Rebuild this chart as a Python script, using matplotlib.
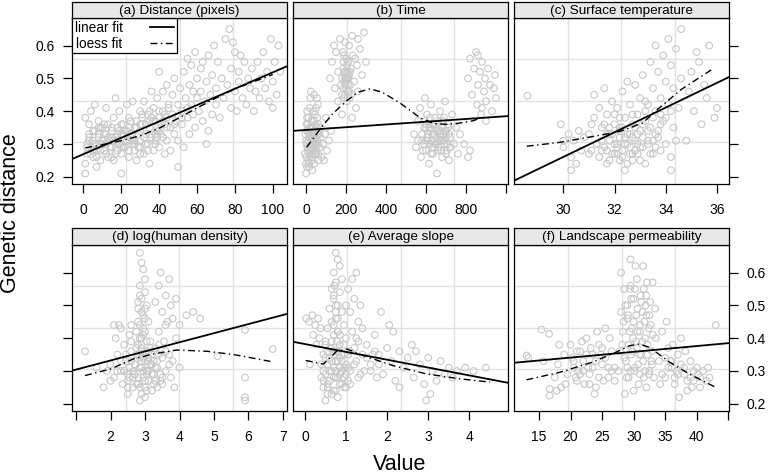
import matplotlib
matplotlib.use("Agg")
import matplotlib.pyplot as plt
from matplotlib.lines import Line2D

plt.rcParams['font.family'] = ['Liberation Sans', 'DejaVu Sans']

# ---- data ----
titles = ['(a) Distance (pixels)', '(b) Time', '(c) Surface temperature',
          '(d) log(human density)', '(e) Average slope', '(f) Landscape permeability']

# (a) distance
dist_x = [1, 1, 2, 2, 3, 3, 1, 4, 5, 5, 6, 6, 7, 8, 8, 9, 9, 10, 4, 7,
          11, 11, 12, 12, 13, 13, 14, 15, 15, 16, 16, 17, 17, 18, 18, 19, 19, 20, 20, 20,
          21, 22, 22, 23, 23, 24, 24, 25, 26, 26, 27, 27, 28, 28, 29, 30, 30, 30,
          31, 32, 32, 33, 34, 34, 35, 35, 36, 36, 37, 37, 38, 38, 39, 39, 40, 40, 40,
          41, 42, 42, 43, 43, 44, 44, 45, 46, 46, 47, 47, 48, 48, 49, 50, 50, 50,
          51, 52, 52, 53, 53, 54, 55, 55, 56, 56, 57, 57, 58, 58, 59, 59, 60, 60,
          61, 62, 62, 63, 63, 64, 65, 65, 66, 66, 67, 68, 68, 69, 70, 70,
          71, 72, 73, 74, 75, 76, 77, 78, 78, 79, 80, 80, 81, 82, 82, 83, 84, 85,
          86, 87, 88, 89, 90, 91, 92, 93, 94, 95, 96, 97, 98, 99, 100, 101, 102, 103, 104, 100]
dist_y = [0.21, 0.24, 0.27, 0.30, 0.33, 0.36, 0.38, 0.29, 0.26, 0.31, 0.34, 0.42, 0.28, 0.32, 0.37, 0.30, 0.25, 0.35, 0.40, 0.23,
          0.28, 0.33, 0.41, 0.30, 0.26, 0.36, 0.31, 0.29, 0.34, 0.38, 0.25, 0.32, 0.44, 0.28, 0.35, 0.30, 0.40, 0.27, 0.33, 0.21,
          0.36, 0.31, 0.29, 0.42, 0.34, 0.26, 0.38, 0.32, 0.30, 0.43, 0.35, 0.28, 0.37, 0.25, 0.33, 0.31, 0.40, 0.29,
          0.36, 0.27, 0.43, 0.33, 0.30, 0.39, 0.35, 0.24, 0.46, 0.32, 0.28, 0.41, 0.37, 0.30, 0.44, 0.34, 0.29, 0.52, 0.38,
          0.33, 0.46, 0.40, 0.27, 0.36, 0.48, 0.31, 0.42, 0.35, 0.28, 0.45, 0.39, 0.50, 0.33, 0.37, 0.42, 0.23, 0.31,
          0.47, 0.36, 0.40, 0.52, 0.29, 0.44, 0.38, 0.56, 0.33, 0.48, 0.42, 0.54, 0.39, 0.46, 0.58, 0.35, 0.44, 0.50,
          0.40, 0.53, 0.46, 0.37, 0.55, 0.43, 0.30, 0.49, 0.34, 0.57, 0.45, 0.51, 0.39, 0.60, 0.42, 0.47,
          0.55, 0.38, 0.50, 0.44, 0.62, 0.48, 0.65, 0.41, 0.53, 0.61, 0.46, 0.58, 0.40, 0.52, 0.49, 0.57, 0.44, 0.55,
          0.42, 0.50, 0.47, 0.53, 0.40, 0.46, 0.55, 0.44, 0.50, 0.58, 0.47, 0.52, 0.43, 0.62, 0.49, 0.55, 0.45, 0.60, 0.52, 0.41]
dist_core_x = [2, 3, 4, 5, 6, 7, 8, 9, 10, 11, 12, 13, 14, 15, 16, 17, 18, 19, 20, 21, 22, 23,
               24, 25, 26, 27, 28, 29, 30, 31, 32, 33, 34, 35, 36, 37, 38, 39, 40, 41, 42, 43, 44, 45,
               3, 6, 9, 12, 15, 18, 21, 24, 27, 30, 33, 36, 39, 42,
               5, 10, 15, 20, 25, 30, 35, 40, 8, 14, 19, 26, 31, 38, 44, 48, 52, 55]
dist_core_y = [0.29, 0.32, 0.27, 0.34, 0.30, 0.26, 0.33, 0.28, 0.31, 0.36, 0.27, 0.32, 0.29, 0.35, 0.31, 0.27,
               0.33, 0.30, 0.36, 0.29, 0.34, 0.31, 0.28, 0.37, 0.33, 0.30, 0.35, 0.29, 0.34, 0.38, 0.32, 0.36,
               0.28, 0.40, 0.33, 0.37, 0.31, 0.35, 0.40, 0.36, 0.32, 0.39, 0.35, 0.41,
               0.31, 0.28, 0.35, 0.33, 0.26, 0.31, 0.33, 0.35, 0.31, 0.36, 0.30, 0.38, 0.32, 0.37,
               0.28, 0.30, 0.32, 0.29, 0.33, 0.27, 0.37, 0.34, 0.35, 0.29, 0.34, 0.31, 0.39, 0.33, 0.38, 0.36, 0.38, 0.41]
dist_lin_x = [-6, 107.5]
dist_lin_y = [0.254, 0.537]
dist_lo_x = [1, 10, 20, 30, 40, 50, 60, 70, 80, 90, 100]
dist_lo_y = [0.288, 0.298, 0.31, 0.325, 0.348, 0.378, 0.41, 0.44, 0.468, 0.49, 0.512]

# (b) time
time_x = [0, 5, 10, 15, 20, 25, 30, 35, 40, 45, 50, 55,
          3, 8, 12, 18, 22, 28, 33, 38, 42, 48, 52, 58, 62, 68, 72, 78, 2, 6, 14, 26, 36, 46, 56, 64, 74,
          85, 95, 105, 115, 125, 100, 90, 9, 31, 17, 60, 40, 24,
          120, 130, 140, 150, 160, 170, 175, 180, 185, 190, 195, 200, 205, 210, 215, 220, 225, 230, 235, 240,
          250, 255, 260, 270, 280, 290, 300, 190, 200, 210, 195, 180, 230, 160, 145, 260, 205, 215, 245, 185,
          540, 550, 560, 570, 575, 580, 590, 595, 600, 605, 610, 615, 620, 625, 630, 635, 640, 645, 650, 655,
          660, 665, 670, 675, 680, 685, 690, 695, 700, 705, 710, 715, 720, 730, 740, 750, 760, 770, 790, 810,
          820, 600, 650, 690, 630, 670, 560, 720,
          810, 820, 830, 840, 850, 855, 860, 870, 875, 880, 890, 895, 900, 910, 920, 930, 940, 945, 950, 900, 860, 880]
time_y = [0.21, 0.23, 0.25, 0.27, 0.29, 0.31, 0.33, 0.35, 0.37, 0.39, 0.41, 0.44,
          0.30, 0.34, 0.38, 0.41, 0.44, 0.25, 0.28, 0.31, 0.24, 0.27, 0.30, 0.33, 0.36, 0.29, 0.32, 0.26, 0.36, 0.40, 0.33, 0.37, 0.40, 0.34, 0.38, 0.25, 0.35,
          0.30, 0.33, 0.28, 0.31, 0.34, 0.38, 0.25, 0.28, 0.22, 0.23, 0.42, 0.45, 0.46,
          0.50, 0.55, 0.60, 0.58, 0.52, 0.62, 0.48, 0.45, 0.53, 0.57, 0.50, 0.47, 0.43, 0.55, 0.60, 0.52, 0.45, 0.63, 0.57, 0.49,
          0.41, 0.54, 0.46, 0.59, 0.51, 0.64, 0.55, 0.44, 0.52, 0.48, 0.61, 0.39, 0.38, 0.43, 0.47, 0.62, 0.50, 0.46, 0.56, 0.58,
          0.33, 0.29, 0.37, 0.41, 0.26, 0.31, 0.35, 0.44, 0.28, 0.39, 0.33, 0.24, 0.30, 0.42, 0.36, 0.27, 0.33, 0.38, 0.30, 0.21,
          0.35, 0.29, 0.40, 0.32, 0.26, 0.37, 0.31, 0.43, 0.34, 0.28, 0.36, 0.25, 0.32, 0.39, 0.30, 0.35, 0.27, 0.33, 0.30, 0.26,
          0.28, 0.35, 0.36, 0.38, 0.31, 0.34, 0.31, 0.29,
          0.50, 0.56, 0.45, 0.53, 0.58, 0.42, 0.48, 0.52, 0.39, 0.55, 0.46, 0.50, 0.43, 0.53, 0.48, 0.40, 0.47, 0.51, 0.44, 0.37, 0.57, 0.41]
time_core_x = [-5, 0, 5, 10, 15, 20, 25, 30, 35, 40, 45, 50, 55, 60, 65,
               -3, 2, 7, 12, 17, 22, 27, 32, 37, 42, 47, 52, 57, 62,
               0, 10, 20, 30, 40, 50, 60, 5, 15, 25, 35, 45,
               180, 185, 190, 195, 200, 205, 210, 215, 220, 225, 188, 198, 208, 218, 192, 202, 212,
               580, 590, 600, 610, 620, 630, 640, 650, 660, 670, 680, 690, 700, 710, 720,
               585, 595, 605, 615, 625, 635, 645, 655, 665, 675, 685, 695, 705, 715,
               600, 620, 640, 660, 680, 700]
time_core_y = [0.27, 0.31, 0.34, 0.29, 0.32, 0.26, 0.30, 0.35, 0.28, 0.33, 0.31, 0.27, 0.35, 0.30, 0.33,
               0.33, 0.26, 0.29, 0.31, 0.35, 0.28, 0.32, 0.26, 0.30, 0.34, 0.36, 0.28, 0.31, 0.27,
               0.24, 0.36, 0.33, 0.29, 0.27, 0.32, 0.34, 0.38, 0.24, 0.35, 0.32, 0.29,
               0.50, 0.47, 0.52, 0.45, 0.50, 0.54, 0.46, 0.51, 0.48, 0.53, 0.55, 0.48, 0.52, 0.44, 0.49, 0.56, 0.50,
               0.33, 0.30, 0.36, 0.31, 0.34, 0.29, 0.36, 0.32, 0.28, 0.33, 0.35, 0.30, 0.32, 0.35, 0.29,
               0.28, 0.37, 0.32, 0.35, 0.27, 0.33, 0.30, 0.34, 0.31, 0.28, 0.33, 0.34, 0.30, 0.33,
               0.31, 0.38, 0.29, 0.37, 0.31, 0.27]
time_lin_x = [-65, 1010]
time_lin_y = [0.340, 0.385]
time_lo_x = [3, 40, 70, 130, 200, 260, 320, 380, 470, 570, 640, 700, 760, 830, 870]
time_lo_y = [0.29, 0.32, 0.345, 0.39, 0.43, 0.458, 0.468, 0.458, 0.425, 0.38, 0.362, 0.36, 0.363, 0.37, 0.378]

# (c) surface temperature
temp_x = [28.6, 29.9, 30.0, 30.2, 30.3, 30.4, 30.5, 30.6, 30.7, 30.3, 30.0,
          31.0, 31.1, 31.2, 31.3, 31.4, 31.5, 31.2, 31.4, 31.1,
          31.6, 31.7, 31.7, 31.8, 31.9, 31.9, 32.0, 31.6, 31.8,
          32.1, 32.1, 32.2, 32.2, 32.3, 32.3, 32.4, 32.4, 32.5, 32.5, 32.2, 32.0,
          32.6, 32.6, 32.7, 32.7, 32.8, 32.8, 32.9, 32.9, 33.0, 33.0, 32.7,
          33.1, 33.1, 33.2, 33.2, 33.3, 33.3, 33.4, 33.4, 33.5, 33.5,
          33.6, 33.6, 33.7, 33.7, 33.8, 33.8, 33.9, 33.9, 34.0, 34.0,
          34.1, 34.1, 34.2, 34.2, 34.3, 34.3, 34.4, 34.5, 34.6, 34.6, 34.2, 34.4,
          34.9, 35.0, 35.1, 35.3, 35.4, 35.5, 35.7, 35.2, 35.9, 36.0, 35.6, 34.8]
temp_y = [0.447, 0.36, 0.31, 0.33, 0.26, 0.31, 0.24, 0.34, 0.28, 0.22, 0.29,
          0.33, 0.28, 0.38, 0.30, 0.26, 0.35, 0.45, 0.41, 0.36,
          0.29, 0.39, 0.24, 0.33, 0.43, 0.27, 0.36, 0.47, 0.31,
          0.30, 0.41, 0.25, 0.35, 0.46, 0.28, 0.38, 0.22, 0.33, 0.49, 0.32, 0.27,
          0.29, 0.42, 0.36, 0.25, 0.31, 0.48, 0.39, 0.27, 0.34, 0.44, 0.32,
          0.29, 0.51, 0.37, 0.24, 0.42, 0.31, 0.55, 0.35, 0.27, 0.47,
          0.40, 0.60, 0.32, 0.52, 0.44, 0.28, 0.57, 0.37, 0.49, 0.30,
          0.42, 0.62, 0.54, 0.26, 0.47, 0.35, 0.59, 0.41, 0.65, 0.50, 0.22, 0.31,
          0.46, 0.52, 0.40, 0.55, 0.36, 0.48, 0.60, 0.58, 0.38, 0.41, 0.44, 0.31]
temp_core_x = [31.5, 31.7, 31.9, 32.1, 32.3, 32.5, 32.7, 32.9, 33.1, 33.3, 33.5, 33.7,
               31.6, 31.8, 32.0, 32.2, 32.4, 32.6, 32.8, 33.0, 33.2, 33.4, 33.6, 33.8,
               31.5, 31.8, 32.1, 32.4, 32.7, 33.0, 33.3, 33.6,
               31.7, 32.0, 32.3, 32.6, 32.9, 33.2, 33.5, 33.8,
               32.2, 32.5, 32.8, 33.1, 31.3, 31.0, 30.8, 34.0, 34.2]
temp_core_y = [0.31, 0.28, 0.33, 0.29, 0.35, 0.30, 0.27, 0.33, 0.36, 0.30, 0.38, 0.34,
               0.36, 0.25, 0.30, 0.38, 0.32, 0.27, 0.35, 0.29, 0.40, 0.27, 0.33, 0.39,
               0.28, 0.35, 0.27, 0.30, 0.39, 0.25, 0.34, 0.29,
               0.33, 0.39, 0.26, 0.33, 0.30, 0.43, 0.31, 0.36,
               0.34, 0.24, 0.28, 0.32, 0.30, 0.27, 0.32, 0.38, 0.40]
temp_lin_x = [28.07, 36.47]
temp_lin_y = [0.188, 0.504]
temp_lo_x = [28.57, 29.87, 31.17, 32.2, 33.1, 33.6, 34.6, 35.8]
temp_lo_y = [0.293, 0.305, 0.323, 0.338, 0.364, 0.40, 0.466, 0.527]

# (d) log(human density)
hum_x = [2.85, 2.9, 2.95, 3.0, 2.85, 3.0, 2.9, 3.05, 2.8, 2.95, 3.1, 2.85, 3.0, 2.9, 3.15, 2.8, 3.0,
         2.75, 3.1, 2.9, 3.2, 2.85, 3.05, 2.7, 3.25, 2.95, 3.1, 2.8, 3.0, 3.2, 2.9, 3.0, 2.85,
         2.0, 2.1, 2.2, 2.3, 2.35, 2.4, 2.45, 2.5, 2.55, 2.6, 2.65, 2.7, 2.6, 3.3, 3.35, 3.4, 3.45,
         3.5, 3.55, 3.6, 3.65, 3.7, 3.75, 3.8, 3.9, 4.0, 3.85, 2.15, 2.25, 2.0, 1.9, 1.8, 2.5,
         3.3, 3.4, 3.5, 3.6, 3.7, 3.75, 3.8, 3.9, 4.0, 4.2, 4.4, 4.6, 3.6, 3.45,
         1.26, 2.1, 2.3, 1.6, 5.9, 5.9, 5.9, 5.9, 5.1, 6.7]
hum_y = [0.66, 0.63, 0.61, 0.58, 0.56, 0.54, 0.52, 0.50, 0.49, 0.47, 0.45, 0.44, 0.42, 0.40, 0.39, 0.38, 0.36,
         0.35, 0.34, 0.33, 0.32, 0.31, 0.30, 0.29, 0.29, 0.28, 0.27, 0.26, 0.25, 0.24, 0.23, 0.22, 0.21,
         0.32, 0.28, 0.35, 0.30, 0.26, 0.38, 0.33, 0.29, 0.41, 0.36, 0.25, 0.32, 0.44, 0.37, 0.31, 0.42, 0.27,
         0.34, 0.39, 0.30, 0.45, 0.35, 0.28, 0.33, 0.40, 0.31, 0.25, 0.40, 0.44, 0.27, 0.30, 0.25, 0.23,
         0.51, 0.56, 0.48, 0.53, 0.58, 0.50, 0.46, 0.52, 0.44, 0.47, 0.48, 0.46, 0.44, 0.60,
         0.36, 0.44, 0.43, 0.31, 0.425, 0.28, 0.22, 0.21, 0.345, 0.367]
hum_core_x = [2.4, 2.5, 2.6, 2.7, 2.8, 2.9, 3.0, 3.1, 3.2, 3.3, 3.4, 3.5,
              2.45, 2.55, 2.65, 2.75, 2.85, 2.95, 3.05, 3.15, 3.25, 3.35, 3.45,
              2.5, 2.6, 2.7, 2.8, 2.9, 3.0, 3.1, 3.2, 3.3, 3.4,
              2.55, 2.65, 2.75, 2.85, 2.95, 3.05, 3.15, 3.25, 3.35,
              2.75, 2.8, 2.85, 2.9, 2.95, 3.0, 3.05, 2.8, 2.9, 3.0, 2.85, 2.95, 3.1,
              2.3, 2.2, 3.6, 3.7, 3.5]
hum_core_y = [0.30, 0.27, 0.33, 0.29, 0.35, 0.31, 0.27, 0.33, 0.29, 0.31, 0.35, 0.28,
              0.35, 0.31, 0.28, 0.37, 0.25, 0.34, 0.29, 0.37, 0.26, 0.33, 0.29,
              0.25, 0.39, 0.32, 0.28, 0.38, 0.33, 0.30, 0.35, 0.27, 0.38,
              0.28, 0.30, 0.26, 0.34, 0.30, 0.24, 0.32, 0.33, 0.25,
              0.42, 0.45, 0.40, 0.48, 0.43, 0.46, 0.39, 0.51, 0.37, 0.49, 0.53, 0.41, 0.36,
              0.33, 0.30, 0.36, 0.32, 0.26]
hum_lin_x = [0.884, 7.116]
hum_lin_y = [0.301, 0.474]
hum_lo_x = [1.26, 2.0, 2.67, 3.25, 3.93, 4.8, 5.57, 6.24, 6.64]
hum_lo_y = [0.286, 0.306, 0.337, 0.352, 0.364, 0.36, 0.35, 0.337, 0.329]

# (e) average slope
slope_x = [0.75, 0.8, 0.85, 0.7, 0.9, 0.75, 0.65, 0.85, 0.7, 0.8, 0.6, 0.9, 0.75, 0.65, 0.95, 0.55,
           0.8, 0.7, 1.0, 0.5, 0.85, 0.65, 0.75, 0.45, 0.95, 0.6, 0.8, 0.4, 0.7, 0.9, 0.5, 0.75,
           0.6, 0.85, 0.45, 0.7, 0.55, 0.8, 0.5, 0.65, 0.55, 0.9, 1.0, 0.4, 0.95,
           0.03, 0.1, 0.18, 0.25, 0.32, 0.12, 0.2, 0.35, 0.28, 0.38,
           1.05, 1.1, 1.15, 1.2, 1.25, 1.3, 1.35, 1.05, 1.1, 1.2, 1.3, 1.4, 1.15, 1.25, 1.35, 1.0, 1.4, 1.1,
           1.5, 1.6, 1.7, 1.8, 1.85, 1.9, 2.0, 2.1, 2.15, 2.2, 2.3, 2.4, 2.5, 2.6, 2.65, 2.7, 2.8,
           2.9, 3.0, 3.1, 3.2, 3.3, 3.4, 3.5, 3.6, 3.7, 3.9, 4.1, 4.4, 3.05, 2.95, 2.3, 1.75, 2.05]
slope_y = [0.66, 0.64, 0.62, 0.60, 0.58, 0.57, 0.55, 0.54, 0.52, 0.50, 0.49, 0.48, 0.46, 0.45, 0.44, 0.43,
           0.42, 0.41, 0.40, 0.39, 0.38, 0.37, 0.36, 0.35, 0.35, 0.34, 0.33, 0.32, 0.31, 0.30, 0.29, 0.28,
           0.27, 0.26, 0.25, 0.24, 0.23, 0.22, 0.21, 0.30, 0.36, 0.33, 0.29, 0.28, 0.25,
           0.46, 0.45, 0.47, 0.44, 0.46, 0.32, 0.41, 0.40, 0.38, 0.43,
           0.55, 0.48, 0.42, 0.37, 0.33, 0.45, 0.29, 0.31, 0.26, 0.52, 0.39, 0.35, 0.58, 0.60, 0.50, 0.50, 0.43, 0.36,
           0.38, 0.32, 0.41, 0.35, 0.48, 0.29, 0.37, 0.33, 0.42, 0.27, 0.36, 0.31, 0.34, 0.38, 0.28, 0.36, 0.32,
           0.26, 0.34, 0.30, 0.27, 0.33, 0.29, 0.31, 0.28, 0.30, 0.31, 0.30, 0.31, 0.23, 0.21, 0.25, 0.28, 0.44]
slope_core_x = [0.45, 0.55, 0.65, 0.75, 0.85, 0.95, 1.05,
                0.5, 0.6, 0.7, 0.8, 0.9, 1.0, 1.1,
                0.45, 0.55, 0.65, 0.75, 0.85, 0.95, 1.05,
                0.5, 0.6, 0.7, 0.8, 0.9, 1.0,
                0.55, 0.65, 0.75, 0.85, 0.95,
                0.7, 0.75, 0.8, 0.7, 0.75, 0.8, 0.85, 0.72, 0.78,
                1.2, 1.3, 1.5, 1.6, 1.7, 1.8, 1.25, 1.45, 1.65]
slope_core_y = [0.30, 0.26, 0.33, 0.24, 0.31, 0.28, 0.35,
                0.34, 0.37, 0.28, 0.36, 0.26, 0.32, 0.30,
                0.27, 0.32, 0.23, 0.30, 0.34, 0.38, 0.27,
                0.38, 0.30, 0.35, 0.28, 0.35, 0.25,
                0.25, 0.39, 0.33, 0.29, 0.31,
                0.44, 0.48, 0.42, 0.53, 0.50, 0.46, 0.41, 0.56, 0.39,
                0.32, 0.28, 0.34, 0.30, 0.36, 0.32, 0.40, 0.30, 0.35]
slope_lin_x = [-0.29, 4.94]
slope_lin_y = [0.389, 0.264]
slope_lo_x = [0.02, 0.45, 0.77, 1.02, 1.42, 2.15, 2.96, 3.77, 4.5]
slope_lo_y = [0.332, 0.321, 0.36, 0.367, 0.347, 0.316, 0.291, 0.276, 0.266]

# (f) landscape permeability
perm_x = [13.05, 13.3, 15.4, 16.6, 16.7, 16.7, 15.7,
          17.5, 18.0, 18.5, 19.0, 19.5, 20.0, 20.5, 21.0, 21.5, 22.0, 22.5, 23.0, 23.5, 24.0, 24.5,
          25.0, 25.5, 26.0, 26.5, 27.0, 18.2, 19.2, 20.2, 21.2, 22.2, 23.2, 24.2, 25.2, 26.2, 21.8,
          23.8, 20.8, 24.8, 17.8, 22.8,
          28.0, 28.5, 29.0, 29.5, 30.0, 30.5, 31.0, 31.5, 32.0, 32.5, 33.0, 33.5, 28.2, 28.8, 29.2,
          29.8, 30.2, 30.8, 31.2, 31.8, 32.2, 32.8, 33.2, 28.4, 29.4, 30.4, 31.4, 32.4, 33.4, 27.6,
          28.6, 29.6, 30.6, 31.6, 32.6, 30.0, 31.0, 32.0, 29.0, 28.0, 30.3, 29.5, 31.8, 32.9, 27.8,
          34.0, 34.5, 35.0, 35.5, 36.0, 36.5, 37.0, 37.5, 38.0, 38.5, 39.0, 39.5, 40.0, 40.5, 41.0,
          41.5, 42.0, 34.2, 35.2, 36.2, 37.2, 38.2, 39.2, 40.2, 35.8, 36.8, 43.0, 41.8]
perm_y = [0.347, 0.34, 0.426, 0.413, 0.245, 0.225, 0.33,
          0.28, 0.32, 0.25, 0.35, 0.29, 0.38, 0.31, 0.27, 0.36, 0.33, 0.40, 0.29, 0.35, 0.25, 0.38,
          0.32, 0.43, 0.28, 0.36, 0.31, 0.38, 0.26, 0.34, 0.30, 0.26, 0.37, 0.42, 0.27, 0.40, 0.39,
          0.23, 0.28, 0.35, 0.24, 0.31,
          0.60, 0.55, 0.50, 0.64, 0.45, 0.58, 0.42, 0.62, 0.53, 0.47, 0.57, 0.40, 0.38, 0.33, 0.28,
          0.36, 0.31, 0.26, 0.35, 0.30, 0.38, 0.33, 0.28, 0.45, 0.42, 0.39, 0.48, 0.43, 0.49, 0.30,
          0.23, 0.52, 0.49, 0.55, 0.51, 0.24, 0.29, 0.25, 0.31, 0.48, 0.62, 0.56, 0.40, 0.36, 0.36,
          0.33, 0.42, 0.28, 0.37, 0.31, 0.26, 0.35, 0.40, 0.29, 0.24, 0.33, 0.27, 0.31, 0.25, 0.30,
          0.27, 0.28, 0.26, 0.45, 0.38, 0.22, 0.36, 0.25, 0.29, 0.33, 0.30, 0.44, 0.31]
perm_core_x = [28.5, 29.0, 29.5, 30.0, 30.5, 31.0, 31.5, 32.0, 32.5, 33.0,
               28.7, 29.2, 29.7, 30.2, 30.7, 31.2, 31.7, 32.2, 32.7,
               28.3, 28.9, 29.4, 29.9, 30.4, 30.9, 31.4, 31.9, 32.4, 32.9,
               29.1, 29.6, 30.1, 30.6, 31.1, 31.6, 32.1,
               20.5, 21.5, 22.5, 23.5, 24.5, 25.5, 26.5, 21.0, 22.0, 23.0, 24.0, 25.0, 26.0, 27.0,
               34.5, 35.5, 36.5, 37.5, 38.5, 39.5, 40.5, 35.0, 36.0, 37.0, 38.0, 39.0]
perm_core_y = [0.34, 0.46, 0.30, 0.52, 0.37, 0.44, 0.33, 0.47, 0.30, 0.41,
               0.50, 0.38, 0.43, 0.55, 0.32, 0.51, 0.45, 0.35, 0.44,
               0.42, 0.28, 0.55, 0.40, 0.47, 0.35, 0.39, 0.50, 0.29, 0.32,
               0.47, 0.35, 0.30, 0.42, 0.53, 0.28, 0.57,
               0.33, 0.29, 0.35, 0.31, 0.28, 0.34, 0.30, 0.36, 0.30, 0.26, 0.33, 0.37, 0.31, 0.27,
               0.29, 0.31, 0.28, 0.32, 0.27, 0.30, 0.28, 0.34, 0.33, 0.29, 0.31, 0.28]
perm_lin_x = [11.04, 45.1]
perm_lin_y = [0.325, 0.385]
perm_lo_x = [13.0, 18.3, 23.5, 27.2, 29.35, 30.9, 32.5, 35.7, 38.8, 43.0]
perm_lo_y = [0.273, 0.296, 0.327, 0.357, 0.377, 0.382, 0.372, 0.327, 0.291, 0.25]

xticks = [[0, 20, 40, 60, 80, 100], [0, 200, 400, 600, 800, 1000], [30, 32, 34, 36],
          [1, 2, 3, 4, 5, 6, 7], [0, 1, 2, 3, 4], [15, 20, 25, 30, 35, 40, 45]]
xticklabels = [['0', '20', '40', '60', '80', '100'], ['0', '200', '400', '600', '800', ''],
               ['30', '32', '34', '36'], ['', '2', '3', '4', '5', '6', '7'],
               ['0', '1', '2', '3', '4'], ['15', '20', '25', '30', '35', '40', '']]
yticks = [0.2, 0.3, 0.4, 0.5, 0.6]

panels = [(dist_x + dist_core_x, dist_y + dist_core_y, dist_lin_x, dist_lin_y, dist_lo_x, dist_lo_y),
          (time_x + time_core_x, time_y + time_core_y, time_lin_x, time_lin_y, time_lo_x, time_lo_y),
          (temp_x + temp_core_x, temp_y + temp_core_y, temp_lin_x, temp_lin_y, temp_lo_x, temp_lo_y),
          (hum_x + hum_core_x, hum_y + hum_core_y, hum_lin_x, hum_lin_y, hum_lo_x, hum_lo_y),
          (slope_x + slope_core_x, slope_y + slope_core_y, slope_lin_x, slope_lin_y, slope_lo_x, slope_lo_y),
          (perm_x + perm_core_x, perm_y + perm_core_y, perm_lin_x, perm_lin_y, perm_lo_x, perm_lo_y)]

xlims = [(-6, 107.5), (-65, 1010), (28.07, 36.47), (0.884, 7.116), (-0.29, 4.94), (11.04, 45.1)]
ylim = (0.178, 0.684)

W, H = 768, 474
lefts = [72, 293, 514]
tops = [18, 245]
strip_h = [16, 17]
pw, ph = 215, 166
dashdot = (0, (5, 2.5, 1, 2.5))

fig = plt.figure(figsize=(7.68, 4.74), dpi=100)

for i, (x, y, lx, ly, ox, oy) in enumerate(panels):
    row, col = i // 3, i % 3
    l, t = lefts[col], tops[row]
    ax = fig.add_axes([l / W, 1 - (t + ph) / H, pw / W, ph / H])
    sax = fig.add_axes([l / W, 1 - t / H, pw / W, strip_h[row] / H])

    # strip
    sax.set_facecolor('#e8e8e8')
    sax.set_xticks([])
    sax.set_yticks([])
    for s in sax.spines.values():
        s.set_linewidth(0.9)
    sax.text(0.5, 0.45, titles[i], ha='center', va='center', fontsize=9.7)

    x0, x1 = xlims[i]
    ax.set_xlim(x0, x1)
    ax.set_ylim(*ylim)
    for f in (0.25, 0.5, 0.75):
        ax.axvline(x0 + f * (x1 - x0), color='#e2e2e2', lw=1, zorder=0)
        ax.axhline(ylim[0] + f * (ylim[1] - ylim[0]), color='#e2e2e2', lw=1, zorder=0)

    ax.scatter(x, y, s=23, facecolors='none', edgecolors='#c8c8c8', linewidths=0.8, zorder=1)
    ax.plot(lx, ly, color='black', lw=1.3, zorder=3)
    ax.plot(ox, oy, color='black', lw=1.0, linestyle=dashdot, zorder=3)

    for s in ax.spines.values():
        s.set_linewidth(0.9)

    ax.set_xticks(xticks[i])
    ax.set_xticklabels(xticklabels[i])
    ax.tick_params(axis='x', direction='out', length=6.5, width=0.9, pad=7, labelsize=10)

    if col == 0:
        ax.set_yticks(yticks)
        if row == 0:
            ax.set_yticklabels(['0.2', '0.3', '0.4', '0.5', '0.6'])
        else:
            ax.set_yticklabels([])
        ax.tick_params(axis='y', direction='out', length=6.5, width=0.9, pad=6, labelsize=10)
    elif col == 2:
        ax.set_yticks(yticks)
        ax.yaxis.tick_right()
        if row == 1:
            ax.set_yticklabels(['0.2', '0.3', '0.4', '0.5', '0.6'])
        else:
            ax.set_yticklabels([])
        ax.tick_params(axis='y', direction='out', length=6.5, width=0.9, pad=6, labelsize=10)
    else:
        ax.set_yticks([])

    if i == 0:
        handles = [Line2D([], [], color='black', lw=1.3),
                   Line2D([], [], color='black', lw=1.0, linestyle=dashdot)]
        leg = ax.legend(handles, ['linear fit', 'loess fit'], loc='upper left',
                        markerfirst=False, borderaxespad=0, fancybox=False,
                        edgecolor='black', framealpha=1, fontsize=9.8,
                        handlelength=1.8, handletextpad=2.0, labelspacing=0.15,
                        borderpad=0.2)
        leg.get_frame().set_linewidth(0.9)
        leg.set_zorder(5)

fig.text(11 / W, 1 - 213 / H, 'Genetic distance', rotation=90, ha='center', va='center', fontsize=15.5)
fig.text(400 / W, 1 - 465 / H, 'Value', ha='center', va='center', fontsize=15.5)

fig.savefig('out.png', dpi=100)
